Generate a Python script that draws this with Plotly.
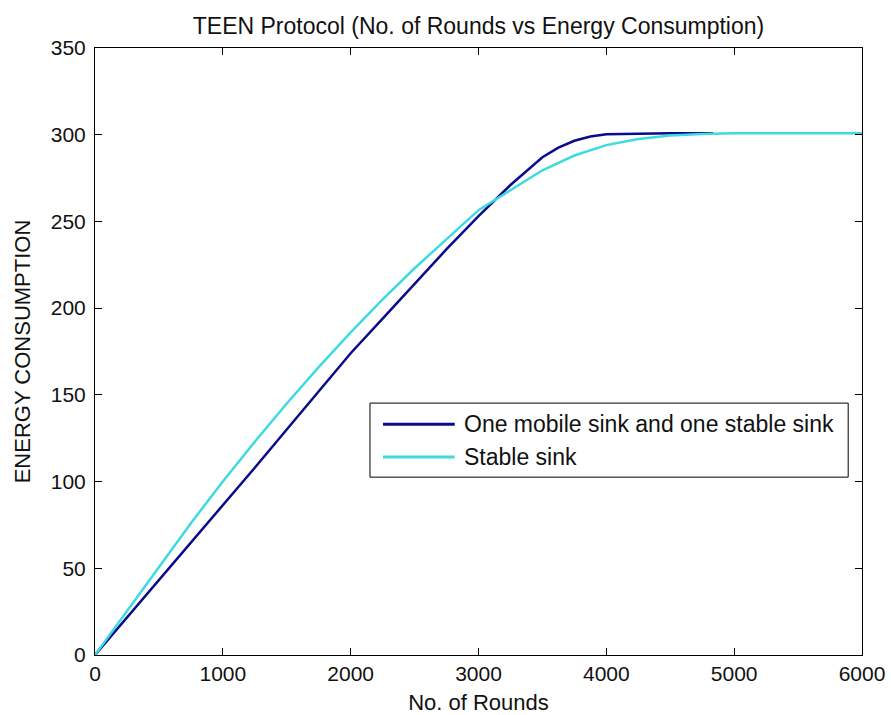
import plotly.graph_objects as go

# Rounds / energy readings for the two sink configurations
mobile_rounds = [0, 250, 500, 750, 1000, 1250, 1500, 1750, 2000, 2250, 2500, 2750,
                 3000, 3250, 3500, 3625, 3750, 3875, 4000, 4250, 4500, 4835]
mobile_energy = [0, 21.5, 43, 65, 86.5, 108, 130, 152, 174, 194, 214, 234,
                 253, 271, 287, 292.5, 296.5, 299, 300.3, 300.8, 300.9, 300.9]

stable_rounds = [0, 250, 500, 750, 1000, 1250, 1500, 1750, 2000, 2250, 2500, 2750,
                 3000, 3250, 3500, 3750, 4000, 4250, 4500, 4750, 5000, 5500, 6000]
stable_energy = [0, 25.5, 51, 76, 100, 123, 145, 166, 186, 205, 223, 240,
                 256.5, 268, 279.5, 288, 294, 297.5, 299.5, 300.4, 300.8, 300.9, 300.9]

series_names = ["One mobile sink and one stable sink", "Stable sink"]
series_colors = ["#0a0a8c", "#3ddbe0"]

x_ticks = [0, 1000, 2000, 3000, 4000, 5000, 6000]
y_ticks = [0, 50, 100, 150, 200, 250, 300, 350]

FONT = "Liberation Sans, Arial, Helvetica, sans-serif"
INK = "#111"

fig = go.Figure()
fig.add_trace(go.Scatter(x=mobile_rounds, y=mobile_energy, mode="lines",
                         name=series_names[0],
                         line=dict(color=series_colors[0], width=2.5)))
fig.add_trace(go.Scatter(x=stable_rounds, y=stable_energy, mode="lines",
                         name=series_names[1],
                         line=dict(color=series_colors[1], width=2.5)))

axis_common = dict(showline=True, linecolor="black", linewidth=1, mirror="ticks",
                   ticks="inside", ticklen=7, tickcolor="black", tickwidth=1,
                   showgrid=False, zeroline=False, automargin=False,
                   tickfont=dict(family=FONT, size=21, color=INK))

fig.update_xaxes(range=[0, 6000], tickvals=x_ticks, **axis_common,
                 title=dict(text="No. of Rounds", font=dict(family=FONT, size=22, color=INK),
                            standoff=10))
fig.update_yaxes(range=[0, 350], tickvals=y_ticks, **axis_common,
                 ticklabelstandoff=4,
                 title=dict(text="ENERGY CONSUMPTION", font=dict(family=FONT, size=22, color=INK),
                            standoff=14))

# Legend box drawn in paper coordinates
lx0, lx1, ly0, ly1 = 0.3585, 0.982, 0.293, 0.415
fig.add_shape(type="rect", xref="paper", yref="paper", x0=lx0, x1=lx1, y0=ly0, y1=ly1,
              line=dict(color="black", width=1), fillcolor="white", layer="above")
row_y = [0.380, 0.326]
for name, color, ry in zip(series_names, series_colors, row_y):
    fig.add_shape(type="line", xref="paper", yref="paper", x0=0.3755, x1=0.469, y0=ry, y1=ry,
                  line=dict(color=color, width=3), layer="above")
    fig.add_annotation(xref="paper", yref="paper", x=0.478, y=ry, text=name,
                       showarrow=False, xanchor="left", yanchor="middle",
                       font=dict(family=FONT, size=23, color=INK))

fig.update_layout(
    width=891, height=715,
    margin=dict(l=95, r=29, t=48, b=60),
    paper_bgcolor="white", plot_bgcolor="white",
    showlegend=False,
    title=dict(text="TEEN Protocol (No. of Rounds vs Energy Consumption)",
               font=dict(family=FONT, size=23, color=INK),
               x=0.5, xref="paper", xanchor="center",
               y=1 - 26 / 715, yref="container", yanchor="middle"),
)

fig.write_html("out.html")
